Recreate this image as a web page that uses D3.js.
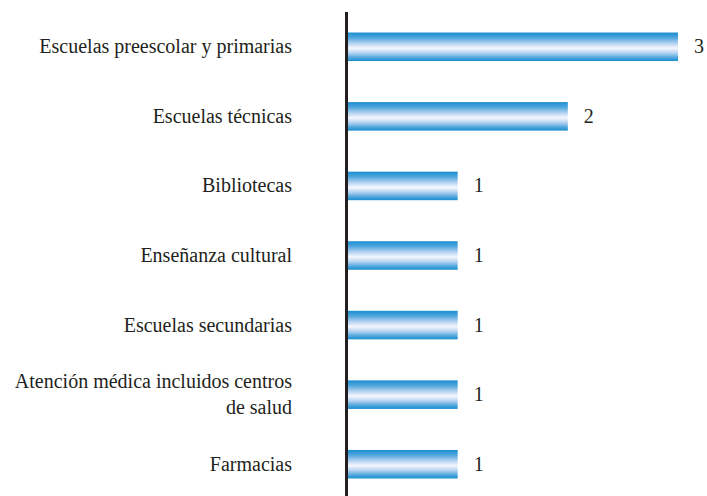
<!DOCTYPE html>
<html><head><meta charset="utf-8">
<script src="https://cdn.jsdelivr.net/npm/d3@7"></script>
</head><body style="margin:0;background:#fff">
<svg id="c" width="707" height="496" style="display:block"></svg>
<script>
const categories = [
  ["Escuelas preescolar y primarias"],
  ["Escuelas técnicas"],
  ["Bibliotecas"],
  ["Enseñanza cultural"],
  ["Escuelas secundarias"],
  ["Atención médica incluidos centros", "de salud"],
  ["Farmacias"]
];
const values = [3, 2, 1, 1, 1, 1, 1];

const svg = d3.select("#c");
const x = d3.scaleLinear().domain([0, 3]).range([347.5, 678]);
const y = d3.scaleBand().domain(d3.range(categories.length)).range([12, 499])
  .paddingInner(0.59).paddingOuter(0.295);

const defs = svg.append("defs");
const g = defs.append("linearGradient").attr("id", "barg")
  .attr("x1", 0).attr("y1", 0).attr("x2", 0).attr("y2", 1);
[[0, "#1a8ed0"], [0.18, "#4fa6dd"], [0.38, "#b4d2f0"], [0.55, "#f5f7ff"], [0.72, "#b4d2f0"], [0.88, "#4fa6dd"], [1, "#1a8ed0"]]
  .forEach(([o, c]) => g.append("stop").attr("offset", o).attr("stop-color", c));

values.forEach((v, i) => {
  svg.append("rect")
    .attr("x", x(0)).attr("y", y(i))
    .attr("width", x(v) - x(0)).attr("height", y.bandwidth())
    .attr("fill", "url(#barg)");
});

svg.append("line").attr("x1", 346.5).attr("x2", 346.5).attr("y1", 12).attr("y2", 496)
  .attr("stroke", "#231f20").attr("stroke-width", 3);

values.forEach((v, i) => {
  svg.append("text")
    .attr("x", x(v) + 16)
    .attr("y", y(i) + y.bandwidth() / 2 + 6.5)
    .style("font-family", '"Liberation Serif"').style("font-size", "20px")
    .style("fill", "#231f20")
    .text(v);
});

categories.forEach((lines, i) => {
  const cy = y(i) + y.bandwidth() / 2;
  const lh = 26;
  const start = cy - (lines.length - 1) * lh / 2 + 6.5;
  lines.forEach((t, k) => {
    svg.append("text")
      .attr("x", 292).attr("y", start + k * lh)
      .attr("text-anchor", "end")
      .style("font-family", '"Liberation Serif"').style("font-size", "20px")
      .style("fill", "#231f20")
      .text(t);
  });
});
</script>
</body></html>
